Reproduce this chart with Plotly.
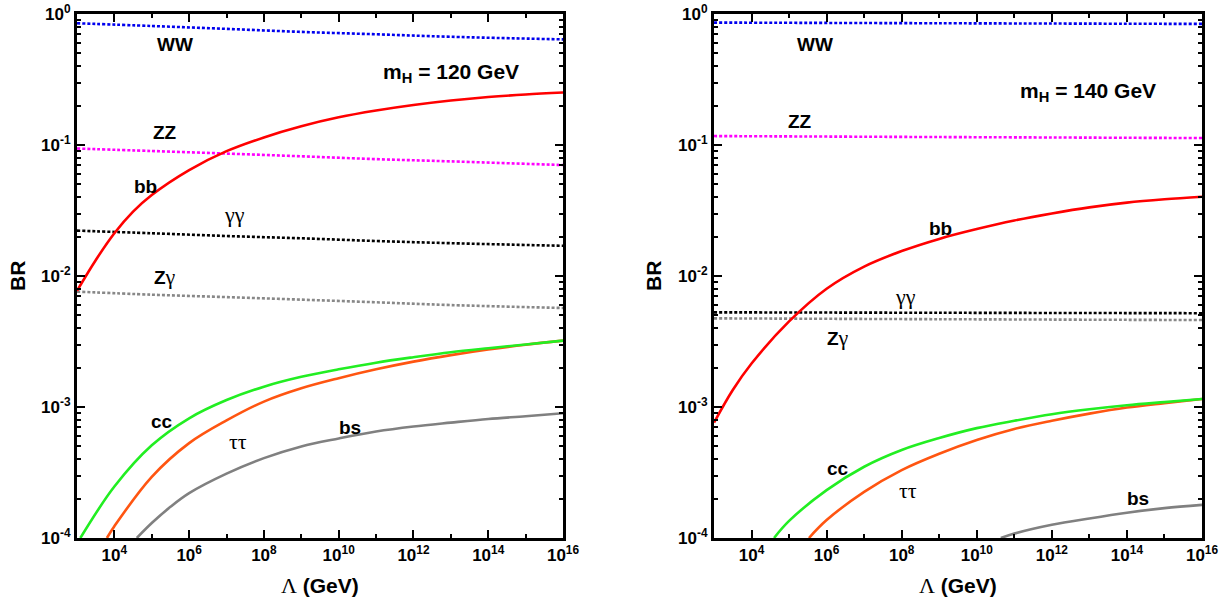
import plotly.graph_objects as go

# ---------------- data (exponents of Lambda in GeV, branching ratios) ----------------
# Left panel: m_H = 120 GeV
L_ww_x = [3, 5, 7, 9, 11, 13, 16]
L_ww_y = [0.85, 0.81, 0.77, 0.73, 0.70, 0.67, 0.64]
L_zz_x = [3, 5, 7, 9, 11, 13, 16]
L_zz_y = [0.094, 0.090, 0.086, 0.082, 0.078, 0.075, 0.0703]
L_gg_x = [3, 5, 7, 9, 11, 13, 16]
L_gg_y = [0.0222, 0.0212, 0.0202, 0.0194, 0.0185, 0.0178, 0.0170]
L_zg_x = [3, 5, 7, 9, 11, 13, 16]
L_zg_y = [0.0076, 0.0072, 0.0069, 0.0066, 0.0063, 0.0060, 0.0057]
L_bb_x = [3, 3.5, 4, 4.5, 5, 6, 7, 8, 9, 10, 11, 12, 13, 14, 15, 16]
L_bb_y = [0.0077, 0.0132, 0.0212, 0.031, 0.0415, 0.0643, 0.0897, 0.1143, 0.139, 0.1626,
          0.1832, 0.2018, 0.2183, 0.2323, 0.2432, 0.2518]
L_cc_x = [3.09, 4, 5, 6, 7, 8, 9, 10, 11, 12, 13, 14, 15, 16]
L_cc_y = [1.0e-4, 2.47e-4, 5.1e-4, 8.2e-4, 1.13e-3, 1.43e-3, 1.70e-3, 1.94e-3, 2.18e-3,
          2.40e-3, 2.62e-3, 2.81e-3, 3.0e-3, 3.21e-3]
L_tt_x = [3.80, 4, 5, 6, 7, 8, 9, 10, 11, 12, 13, 14, 15, 16]
L_tt_y = [1.0e-4, 1.23e-4, 2.93e-4, 5.3e-4, 7.9e-4, 1.10e-3, 1.39e-3, 1.66e-3, 1.94e-3,
          2.22e-3, 2.49e-3, 2.75e-3, 2.99e-3, 3.21e-3]
L_bs_x = [4.6, 5, 5.5, 6, 7, 8, 9, 10, 11, 12, 13, 14, 15, 16]
L_bs_y = [1.0e-4, 1.3e-4, 1.73e-4, 2.2e-4, 3.1e-4, 4.07e-4, 5.0e-4, 5.75e-4, 6.5e-4,
          7.1e-4, 7.6e-4, 8.1e-4, 8.5e-4, 8.95e-4]

# Right panel: m_H = 140 GeV
R_ww_x = [3, 9, 16]
R_ww_y = [0.86, 0.85, 0.84]
R_zz_x = [3, 9, 16]
R_zz_y = [0.117, 0.115, 0.113]
R_gg_x = [3, 9, 16]
R_gg_y = [0.00528, 0.00524, 0.0052]
R_zg_x = [3, 9, 16]
R_zg_y = [0.00475, 0.00468, 0.00461]
R_bb_x = [3, 3.5, 4, 5, 6, 7, 8, 9, 10, 11, 12, 13, 14, 15, 16]
R_bb_y = [7.6e-4, 1.35e-3, 2.15e-3, 4.5e-3, 8.0e-3, 0.0118, 0.0155, 0.0192, 0.0228,
          0.0265, 0.0300, 0.0334, 0.0363, 0.0385, 0.0403]
R_cc_x = [4.6, 5, 6, 7, 8, 9, 10, 11, 12, 13, 14, 15, 16]
R_cc_y = [1.0e-4, 1.35e-4, 2.32e-4, 3.5e-4, 4.7e-4, 5.8e-4, 6.9e-4, 7.85e-4, 8.8e-4,
          9.6e-4, 1.03e-3, 1.09e-3, 1.15e-3]
R_tt_x = [5.53, 6, 7, 8, 9, 10, 11, 12, 13, 14, 15, 16]
R_tt_y = [1.0e-4, 1.37e-4, 2.25e-4, 3.3e-4, 4.4e-4, 5.6e-4, 6.8e-4, 7.85e-4, 8.9e-4,
          9.9e-4, 1.07e-3, 1.15e-3]
R_bs_x = [10.64, 11, 12, 13, 14, 15, 16]
R_bs_y = [1.0e-4, 1.08e-4, 1.26e-4, 1.41e-4, 1.56e-4, 1.69e-4, 1.79e-4]

x_major_exp = [4, 6, 8, 10, 12, 14, 16]
x_minor_exp = [3, 5, 7, 9, 11, 13, 15]
y_major_exp = [0, -1, -2, -3, -4]

# ---------------- styles ----------------
C_WW = "#0000ee"
C_ZZ = "#ff00ff"
C_BB = "#ff0000"
C_GG = "#000000"
C_ZG = "#888888"
C_CC = "#22ee22"
C_TT = "#ff5511"
C_BS = "#808080"

SANS = "Liberation Sans"
SERIF = "Liberation Serif"

fig = go.Figure()


def add(xexp, yv, color, dotted, axis):
    fig.add_trace(go.Scatter(
        x=[10 ** e for e in xexp], y=yv, mode="lines",
        line=dict(color=color, width=2.6,
                  dash="3px,2px" if dotted else "solid", shape="spline", smoothing=1.0),
        xaxis="x" if axis == 1 else "x2", yaxis="y" if axis == 1 else "y2",
        showlegend=False, hoverinfo="skip"))


for ax, series in [
    (1, [(L_ww_x, L_ww_y, C_WW, True), (L_zz_x, L_zz_y, C_ZZ, True), (L_gg_x, L_gg_y, C_GG, True),
         (L_zg_x, L_zg_y, C_ZG, True), (L_bs_x, L_bs_y, C_BS, False), (L_tt_x, L_tt_y, C_TT, False),
         (L_cc_x, L_cc_y, C_CC, False), (L_bb_x, L_bb_y, C_BB, False)]),
    (2, [(R_ww_x, R_ww_y, C_WW, True), (R_zz_x, R_zz_y, C_ZZ, True), (R_zg_x, R_zg_y, C_ZG, True),
         (R_gg_x, R_gg_y, C_GG, True), (R_bs_x, R_bs_y, C_BS, False), (R_tt_x, R_tt_y, C_TT, False),
         (R_cc_x, R_cc_y, C_CC, False), (R_bb_x, R_bb_y, C_BB, False)]),
]:
    for xs, ys, c, d in series:
        add(xs, ys, c, d, ax)

W, H = 1232, 599
Y0, Y1 = 1 - 538 / H, 1 - 14 / H
dom1 = [77 / W, 563 / W]
dom2 = [714 / W, 1202 / W]

y_minor_vals = [m * 10 ** e for e in range(-4, 0) for m in range(2, 10)]


def xaxis(domain, anchor):
    return dict(type="log", domain=domain, anchor=anchor, range=[3, 16], automargin=False,
                tickmode="array", tickvals=[10 ** e for e in x_major_exp],
                ticktext=["10<sup>%d</sup>" % e for e in x_major_exp],
                ticks="inside", ticklen=8, tickwidth=1.5, tickcolor="black",
                minor=dict(tickmode="array", tickvals=[10 ** e for e in x_minor_exp],
                           ticks="inside", ticklen=4, tickwidth=1.5, tickcolor="black"),
                showline=True, linewidth=3, linecolor="black", mirror="ticks",
                showgrid=False, zeroline=False,
                tickfont=dict(family=SANS, size=17, color="black", weight="bold"))


def yaxis(domain, anchor):
    return dict(type="log", domain=domain, anchor=anchor, range=[-4, 0], automargin=False,
                tickmode="array", tickvals=[10 ** e for e in y_major_exp],
                ticktext=["10<sup>%d</sup>" % e for e in y_major_exp],
                ticks="inside", ticklen=8, tickwidth=1.5, tickcolor="black",
                minor=dict(tickmode="array", tickvals=y_minor_vals,
                           ticks="inside", ticklen=4, tickwidth=1.5, tickcolor="black"),
                showline=True, linewidth=3, linecolor="black", mirror="ticks",
                showgrid=False, zeroline=False,
                tickfont=dict(family=SANS, size=17, color="black", weight="bold"))


fig.update_layout(
    width=W, height=H, margin=dict(l=0, r=0, t=0, b=0, autoexpand=False),
    paper_bgcolor="white", plot_bgcolor="white",
    xaxis=xaxis(dom1, "y"), yaxis=yaxis([Y0, Y1], "x"),
    xaxis2=xaxis(dom2, "y2"), yaxis2=yaxis([Y0, Y1], "x2"),
)

B = lambda s: "<b>%s</b>" % s
G = lambda s: '<span style="font-family:%s;font-weight:normal;font-size:22px">%s</span>' % (SERIF, s)
M = lambda s: '<span style="font-size:21px"><b>%s</b></span>' % s

labels = [
    (1, 5.62, -0.229, B("WW")), (1, 13.0, -0.45, M("m<sub>H</sub> = 120 GeV")),
    (1, 5.35, -0.908, B("ZZ")), (1, 4.82, -1.313, B("bb")), (1, 7.22, -1.534, G("γγ")),
    (1, 5.35, -2.0, B("Z") + G("γ")), (1, 5.27, -3.107, B("cc")), (1, 7.3, -3.26, G("ττ")),
    (1, 10.3, -3.16, B("bs")),
    (2, 5.69, -0.229, B("WW")), (2, 12.95, -0.595, M("m<sub>H</sub> = 140 GeV")),
    (2, 5.29, -0.824, B("ZZ")), (2, 9.03, -1.634, B("bb")), (2, 8.09, -2.153, G("γγ")),
    (2, 6.31, -2.473, B("Z") + G("γ")), (2, 6.31, -3.466, B("cc")), (2, 8.17, -3.64, G("ττ")),
    (2, 14.3, -3.695, B("bs")),
]
for ax, lx, ly, txt in labels:
    fig.add_annotation(x=lx, y=ly, xref="x" if ax == 1 else "x2", yref="y" if ax == 1 else "y2",
                       text=txt, showarrow=False, xanchor="center", yanchor="middle",
                       font=dict(family=SANS, size=19, color="black"))

for cx in [320 / W, 958 / W]:
    fig.add_annotation(x=cx, y=1 - 585 / H, xref="paper", yref="paper", showarrow=False,
                       xanchor="center", yanchor="middle",
                       text=G("Λ") + " " + B("(GeV)"),
                       font=dict(family=SANS, size=21, color="black"))
for bx in [18 / W, 654 / W]:
    fig.add_annotation(x=bx, y=1 - 276 / H, xref="paper", yref="paper", showarrow=False,
                       xanchor="center", yanchor="middle",
                       text=B("BR"), textangle=-90,
                       font=dict(family=SANS, size=21, color="black"))

fig.write_html("out.html", config={"displayModeBar": False},
               post_script="document.body.style.margin='0px';document.body.style.overflow='hidden';")
